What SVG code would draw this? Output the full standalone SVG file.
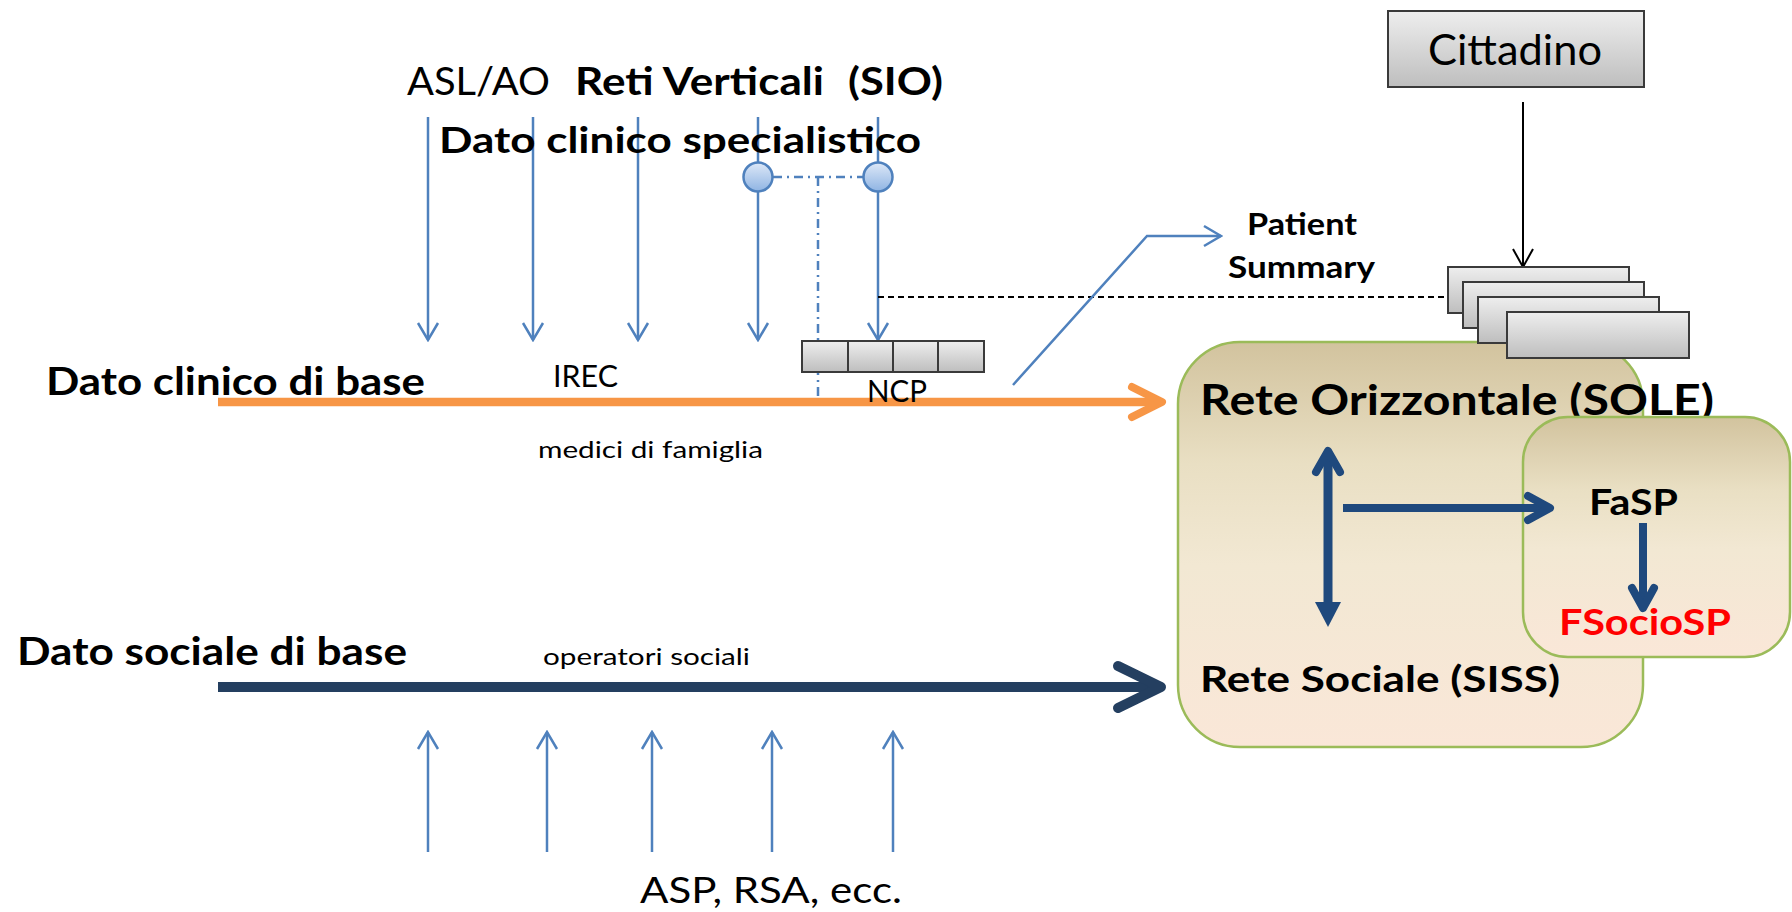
<svg xmlns="http://www.w3.org/2000/svg" width="1792" height="912" viewBox="0 0 1792 912">
<style>
text{font-family:Lato,"Open Sans","Liberation Sans",sans-serif;fill:#000}
.b{font-weight:bold}
.thin{stroke:#4F81BD;stroke-width:2.5;fill:none}
.gbox{fill:url(#gray);stroke:#3a3a3a;stroke-width:2}
.navy{stroke:#1F497D;fill:none;stroke-linecap:round;stroke-linejoin:round}
</style>
<defs>
<linearGradient id="gray" x1="0" y1="0" x2="0" y2="1">
<stop offset="0" stop-color="#EEEEEE"/><stop offset="1" stop-color="#BEBEBE"/>
</linearGradient>
<linearGradient id="tan" x1="0" y1="0" x2="0" y2="1">
<stop offset="0" stop-color="#D2C39E"/><stop offset="0.3" stop-color="#E9DFC3"/><stop offset="0.55" stop-color="#F2E8D3"/><stop offset="1" stop-color="#FAE7D8"/>
</linearGradient>
<linearGradient id="bub" x1="0" y1="0" x2="0" y2="1">
<stop offset="0" stop-color="#DDE8F7"/><stop offset="1" stop-color="#8FB4E3"/>
</linearGradient>
<marker id="ah" viewBox="-20 -12 22 24" refX="0" refY="0" markerWidth="22" markerHeight="24" markerUnits="userSpaceOnUse" orient="auto">
<path d="M-17,-10 L0,0 L-17,10" fill="none" stroke="#4F81BD" stroke-width="2.5"/>
</marker>
<marker id="ahk" viewBox="-20 -12 22 24" refX="0" refY="0" markerWidth="22" markerHeight="24" markerUnits="userSpaceOnUse" orient="auto">
<path d="M-18,-10 L0,0 L-18,10" fill="none" stroke="#000" stroke-width="2"/>
</marker>
</defs>
<rect width="1792" height="912" fill="#fff"/>

<g id="sole-box">
<rect x="1178" y="342" width="465" height="405" rx="62" ry="62" fill="url(#tan)" stroke="#9BBB59" stroke-width="2.5"/>
<text class="b" x="1200" y="415" font-size="42" textLength="514" lengthAdjust="spacingAndGlyphs">Rete Orizzontale (SOLE)</text>
<text class="b" x="1200" y="692" font-size="37" textLength="360" lengthAdjust="spacingAndGlyphs">Rete Sociale (SISS)</text>
</g>
<g id="fasp-box">
<rect x="1523" y="417" width="267" height="240" rx="45" ry="45" fill="url(#tan)" stroke="#9BBB59" stroke-width="2.5"/>
<text class="b" x="1589" y="515" font-size="37" textLength="89" lengthAdjust="spacingAndGlyphs">FaSP</text>
<text class="b" x="1559" y="635" font-size="37" textLength="172" lengthAdjust="spacingAndGlyphs" style="fill:#FF0000">FSocioSP</text>
</g>

<g id="connectors">
<!-- top vertical arrows -->
<line class="thin" x1="428" y1="117" x2="428" y2="340" marker-end="url(#ah)"/>
<line class="thin" x1="533" y1="117" x2="533" y2="340" marker-end="url(#ah)"/>
<line class="thin" x1="638" y1="117" x2="638" y2="340" marker-end="url(#ah)"/>
<line class="thin" x1="758" y1="117" x2="758" y2="340" marker-end="url(#ah)"/>
<line class="thin" x1="878" y1="117" x2="878" y2="340" marker-end="url(#ah)"/>
<!-- dash-dot -->
<path class="thin" d="M773,177 H863 M818,177 V402" stroke-dasharray="9 5 2 5"/>
<!-- dashed black -->
<line x1="878" y1="297" x2="1448" y2="297" stroke="#000" stroke-width="2" stroke-dasharray="6 4"/>
<!-- patient summary connector -->
<polyline class="thin" points="1013,385 1147,236 1221,236" marker-end="url(#ah)"/>
<!-- bottom up arrows -->
<line class="thin" x1="428" y1="852" x2="428" y2="732" marker-end="url(#ah)"/>
<line class="thin" x1="547" y1="852" x2="547" y2="732" marker-end="url(#ah)"/>
<line class="thin" x1="652" y1="852" x2="652" y2="732" marker-end="url(#ah)"/>
<line class="thin" x1="772" y1="852" x2="772" y2="732" marker-end="url(#ah)"/>
<line class="thin" x1="893" y1="852" x2="893" y2="732" marker-end="url(#ah)"/>
<!-- cittadino arrow -->
<line x1="1523" y1="102" x2="1523" y2="267" stroke="#000" stroke-width="2" marker-end="url(#ahk)"/>
<!-- orange main -->
<line x1="218" y1="402" x2="1158" y2="402" stroke="#F79646" stroke-width="8.5"/>
<polyline points="1132,387 1162,402 1132,417" fill="none" stroke="#F79646" stroke-width="8" stroke-linecap="round" stroke-linejoin="round"/>
<!-- navy main -->
<line x1="218" y1="687" x2="1157" y2="687" stroke="#243F60" stroke-width="10"/>
<polyline points="1118,666 1161,687 1118,708" fill="none" stroke="#243F60" stroke-width="10" stroke-linecap="round" stroke-linejoin="round"/>
<!-- double vertical -->
<line x1="1328" y1="455" x2="1328" y2="605" stroke="#1F497D" stroke-width="9"/>
<polyline class="navy" points="1316,472 1328,451 1340,472" stroke-width="8"/>
<polygon points="1315,602 1341,602 1328,627" fill="#1F497D"/>
<!-- to FaSP -->
<line x1="1343" y1="508" x2="1547" y2="508" stroke="#1F497D" stroke-width="8"/>
<polyline class="navy" points="1528,496 1550,508 1528,520" stroke-width="8"/>
<!-- FaSP down -->
<line x1="1643" y1="523" x2="1643" y2="606" stroke="#1F497D" stroke-width="8"/>
<polyline class="navy" points="1632,588 1643,608 1654,588" stroke-width="8"/>
</g>

<g id="circle-left"><circle cx="758" cy="177" r="14.5" fill="url(#bub)" stroke="#4F81BD" stroke-width="2.5"/></g>
<g id="circle-right"><circle cx="878" cy="177" r="14.5" fill="url(#bub)" stroke="#4F81BD" stroke-width="2.5"/></g>

<g id="ncp">
<rect class="gbox" x="802" y="341" width="46" height="31"/>
<rect class="gbox" x="848" y="341" width="45" height="31"/>
<rect class="gbox" x="893" y="341" width="45" height="31"/>
<rect class="gbox" x="938" y="341" width="46" height="31"/>
<text x="867" y="402" font-size="30" textLength="60" lengthAdjust="spacingAndGlyphs">NCP</text>
</g>

<g id="cittadino">
<rect class="gbox" x="1388" y="11" width="256" height="76"/>
<text x="1428" y="65" font-size="42" textLength="174" lengthAdjust="spacingAndGlyphs">Cittadino</text>
</g>

<g id="stack">
<rect class="gbox" x="1448" y="267" width="181" height="46"/>
<rect class="gbox" x="1463" y="282" width="181" height="46"/>
<rect class="gbox" x="1478" y="297" width="181" height="46"/>
<rect class="gbox" x="1507" y="312" width="182" height="46"/>
</g>

<g id="labels">
<text x="407" y="95" font-size="39" textLength="143" lengthAdjust="spacingAndGlyphs">ASL/AO</text>
<text class="b" x="575" y="95" font-size="39" textLength="249" lengthAdjust="spacingAndGlyphs">Reti Verticali</text>
<text class="b" x="848" y="95" font-size="39" textLength="95" lengthAdjust="spacingAndGlyphs">(SIO)</text>
<text class="b" x="439" y="153" font-size="37" textLength="482" lengthAdjust="spacingAndGlyphs">Dato clinico specialistico</text>
<text class="b" x="46" y="395" font-size="39" textLength="379" lengthAdjust="spacingAndGlyphs">Dato clinico di base</text>
<text x="553" y="387" font-size="30" textLength="65" lengthAdjust="spacingAndGlyphs">IREC</text>
<text x="538" y="458" font-size="23" textLength="225" lengthAdjust="spacingAndGlyphs">medici di famiglia</text>
<text class="b" x="17" y="665" font-size="39" textLength="390" lengthAdjust="spacingAndGlyphs">Dato sociale di base</text>
<text x="543" y="665" font-size="23" textLength="207" lengthAdjust="spacingAndGlyphs">operatori sociali</text>
<text x="640" y="903" font-size="37" textLength="262" lengthAdjust="spacingAndGlyphs">ASP, RSA, ecc.</text>
<text class="b" x="1247" y="235" font-size="30" textLength="110" lengthAdjust="spacingAndGlyphs">Patient</text>
<text class="b" x="1228" y="278" font-size="30" textLength="147" lengthAdjust="spacingAndGlyphs">Summary</text>
</g>
</svg>
